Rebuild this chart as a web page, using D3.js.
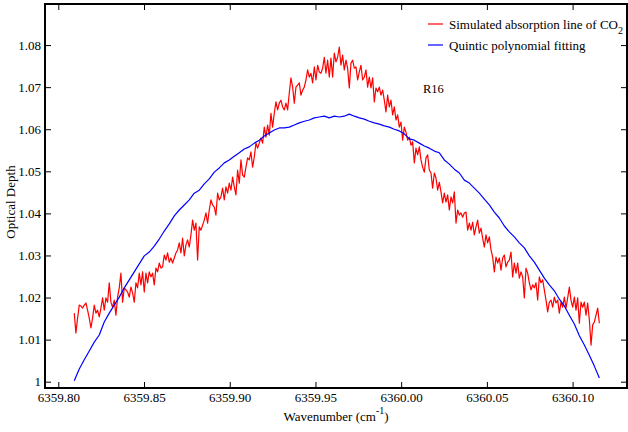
<!DOCTYPE html>
<html>
<head>
    <title>R16 optical depth</title>
    <script src="https://d3js.org/d3.v7.min.js"></script>
    <style>
      body { margin: 0; background: #fff; }
      text { font-family: "Liberation Serif", "Times New Roman", serif; fill: #000; }
    </style>
</head>
<body>
    <svg width="628" height="432"></svg>

    <script>
      // sampling grids (cm^-1)
      const wnStart = 6359.8093, wnEnd = 6360.1156;

      // simulated absorption line (red), evenly sampled from wnStart to wnEnd
      const simulated = [
        1.0163, 1.0116, 1.0151, 1.0182, 1.0180, 1.0175, 1.0182, 1.0187, 1.0170, 1.0151,
        1.0128, 1.0151, 1.0182, 1.0163, 1.0170, 1.0154, 1.0175, 1.0199, 1.0170, 1.0199,
        1.0189, 1.0235, 1.0189, 1.0177, 1.0194, 1.0158, 1.0201, 1.0223, 1.0258, 1.0189,
        1.0223, 1.0218, 1.0213, 1.0201, 1.0225, 1.0211, 1.0189, 1.0235, 1.0223, 1.0258,
        1.0230, 1.0261, 1.0213, 1.0258, 1.0235, 1.0261, 1.0249, 1.0258, 1.0230, 1.0270,
        1.0261, 1.0282, 1.0270, 1.0273, 1.0301, 1.0289, 1.0306, 1.0284, 1.0294, 1.0282,
        1.0294, 1.0306, 1.0313, 1.0330, 1.0306, 1.0341, 1.0299, 1.0325, 1.0337, 1.0320,
        1.0349, 1.0384, 1.0360, 1.0377, 1.0289, 1.0368, 1.0360, 1.0372, 1.0384, 1.0401,
        1.0377, 1.0408, 1.0432, 1.0420, 1.0415, 1.0396, 1.0448, 1.0432, 1.0439, 1.0460,
        1.0432, 1.0463, 1.0448, 1.0472, 1.0455, 1.0486, 1.0463, 1.0444, 1.0503, 1.0472,
        1.0527, 1.0491, 1.0486, 1.0510, 1.0532, 1.0527, 1.0546, 1.0510, 1.0534, 1.0567,
        1.0555, 1.0567, 1.0579, 1.0567, 1.0605, 1.0581, 1.0610, 1.0586, 1.0638, 1.0605,
        1.0638, 1.0665, 1.0646, 1.0662, 1.0669, 1.0653, 1.0646, 1.0662, 1.0646, 1.0686,
        1.0722, 1.0700, 1.0662, 1.0700, 1.0705, 1.0710, 1.0681, 1.0693, 1.0700, 1.0717,
        1.0741, 1.0724, 1.0733, 1.0710, 1.0748, 1.0717, 1.0752, 1.0736, 1.0733, 1.0745,
        1.0771, 1.0733, 1.0764, 1.0724, 1.0769, 1.0724, 1.0781, 1.0760, 1.0771, 1.0795,
        1.0752, 1.0776, 1.0741, 1.0764, 1.0745, 1.0698, 1.0757, 1.0764, 1.0745, 1.0748,
        1.0717, 1.0736, 1.0752, 1.0717, 1.0724, 1.0741, 1.0700, 1.0724, 1.0698, 1.0722,
        1.0665, 1.0698, 1.0689, 1.0700, 1.0681, 1.0693, 1.0669, 1.0641, 1.0681, 1.0653,
        1.0669, 1.0634, 1.0653, 1.0622, 1.0634, 1.0605, 1.0617, 1.0574, 1.0605, 1.0593,
        1.0574, 1.0581, 1.0562, 1.0570, 1.0520, 1.0555, 1.0539, 1.0558, 1.0527, 1.0510,
        1.0498, 1.0532, 1.0539, 1.0503, 1.0496, 1.0460, 1.0496, 1.0484, 1.0455, 1.0474,
        1.0451, 1.0425, 1.0448, 1.0427, 1.0444, 1.0408, 1.0439, 1.0425, 1.0451, 1.0377,
        1.0408, 1.0396, 1.0401, 1.0391, 1.0401, 1.0403, 1.0360, 1.0377, 1.0360, 1.0379,
        1.0349, 1.0368, 1.0384, 1.0353, 1.0365, 1.0341, 1.0320, 1.0349, 1.0330, 1.0344,
        1.0313, 1.0296, 1.0261, 1.0296, 1.0282, 1.0294, 1.0265, 1.0294, 1.0301, 1.0273,
        1.0284, 1.0289, 1.0308, 1.0249, 1.0282, 1.0258, 1.0282, 1.0246, 1.0261, 1.0249,
        1.0199, 1.0270, 1.0258, 1.0235, 1.0218, 1.0230, 1.0223, 1.0235, 1.0194, 1.0249,
        1.0235, 1.0242, 1.0218, 1.0194, 1.0166, 1.0189, 1.0194, 1.0177, 1.0201, 1.0187,
        1.0194, 1.0163, 1.0189, 1.0177, 1.0201, 1.0175, 1.0199, 1.0225, 1.0194, 1.0177,
        1.0201, 1.0170, 1.0199, 1.0139, 1.0189, 1.0177, 1.0189, 1.0158, 1.0187, 1.0147,
        1.0087, 1.0135, 1.0142, 1.0158, 1.0175, 1.0139
      ];

      // quintic polynomial fit (blue), evenly sampled from wnStart to wnEnd
      const fitted = [
        1.0002, 1.0030, 1.0052, 1.0073, 1.0094, 1.0111, 1.0142, 1.0163, 1.0182, 1.0201,
        1.0223, 1.0242, 1.0261, 1.0280, 1.0299, 1.0308, 1.0322, 1.0339, 1.0358, 1.0375,
        1.0394, 1.0408, 1.0420, 1.0432, 1.0448, 1.0455, 1.0470, 1.0482, 1.0498, 1.0508,
        1.0520, 1.0527, 1.0536, 1.0544, 1.0553, 1.0558, 1.0567, 1.0574, 1.0584, 1.0591,
        1.0598, 1.0603, 1.0603, 1.0605, 1.0610, 1.0615, 1.0619, 1.0622, 1.0627, 1.0629,
        1.0631, 1.0627, 1.0631, 1.0629, 1.0631, 1.0636, 1.0631, 1.0627, 1.0624, 1.0619,
        1.0615, 1.0612, 1.0608, 1.0605, 1.0600, 1.0596, 1.0589, 1.0577, 1.0574, 1.0567,
        1.0560, 1.0555, 1.0548, 1.0544, 1.0527, 1.0517, 1.0505, 1.0496, 1.0479, 1.0472,
        1.0460, 1.0448, 1.0434, 1.0420, 1.0403, 1.0389, 1.0370, 1.0356, 1.0344, 1.0330,
        1.0318, 1.0299, 1.0284, 1.0265, 1.0246, 1.0230, 1.0216, 1.0196, 1.0180, 1.0158,
        1.0137, 1.0109, 1.0087, 1.0063, 1.0037, 1.0009
      ];

      const xTicks = [6359.80, 6359.85, 6359.90, 6359.95, 6360.00, 6360.05, 6360.10];
      const xTickLabels = ["6359.80", "6359.85", "6359.90", "6359.95", "6360.00", "6360.05", "6360.10"];
      const yTicks = [1, 1.01, 1.02, 1.03, 1.04, 1.05, 1.06, 1.07, 1.08];
      const yTickLabels = ["1", "1.01", "1.02", "1.03", "1.04", "1.05", "1.06", "1.07", "1.08"];
      const legendLabels = ["Simulated absorption line of CO", "Quintic polynomial fitting"];
      const colors = ["#ff0000", "#0000ff"];

      const svg = d3.select("svg"),
            margin = {top: 4, right: 1, bottom: 44, left: 45},
            width = +svg.attr("width") - margin.left - margin.right,
            height = +svg.attr("height") - margin.top - margin.bottom;

      const x = d3.scaleLinear().domain([6359.79224, 6360.13173]).range([0, width]),
            y = d3.scaleLinear().domain([0.9985, 1.08976]).range([height, 0]);

      const g = svg.append("g")
                   .attr("transform", `translate(${margin.left},${margin.top})`);

      const toPoints = vals => vals.map((v, i) => [wnStart + (wnEnd - wnStart) * i / (vals.length - 1), v]);

      const line = d3.line().x(d => x(d[0])).y(d => y(d[1]));

      [simulated, fitted].forEach((vals, i) => {
        g.append("path")
         .datum(toPoints(vals))
         .attr("fill", "none")
         .attr("stroke", colors[i])
         .attr("stroke-width", 1.2)
         .attr("stroke-linejoin", "round")
         .attr("d", line);
      });

      // axes, ticks point inward
      g.append("g")
       .attr("transform", `translate(0,${height})`)
       .call(d3.axisBottom(x).tickValues(xTicks).tickFormat((d, i) => xTickLabels[i])
             .tickSizeInner(-6).tickSizeOuter(0).tickPadding(5));
      g.append("g")
       .call(d3.axisTop(x).tickValues(xTicks).tickFormat("").tickSizeInner(-6).tickSizeOuter(0));
      g.append("g")
       .call(d3.axisLeft(y).tickValues(yTicks).tickFormat((d, i) => yTickLabels[i])
             .tickSizeInner(-6).tickSizeOuter(0).tickPadding(4));
      g.append("g")
       .attr("transform", `translate(${width},0)`)
       .call(d3.axisRight(y).tickValues(yTicks).tickFormat("").tickSizeInner(-6).tickSizeOuter(0));

      g.selectAll(".domain").remove();
      g.selectAll(".tick line").attr("stroke", "#000").attr("stroke-width", 1);
      g.selectAll(".tick text").attr("font-size", 13).attr("fill", "#000");
      svg.selectAll("g").attr("font-family", null);

      // frame
      g.append("rect")
       .attr("width", width).attr("height", height)
       .attr("fill", "none").attr("stroke", "#000").attr("stroke-width", 2);

      // axis titles
      const xl = svg.append("text")
         .attr("x", margin.left + width / 2).attr("y", 421)
         .attr("text-anchor", "middle").attr("font-size", 13)
         .text("Wavenumber (cm");
      xl.append("tspan").attr("font-size", 10).attr("dy", -7).text("-1");
      xl.append("tspan").attr("dy", 7).text(")");

      svg.append("text")
         .attr("transform", "translate(15,202) rotate(-90)")
         .attr("text-anchor", "middle").attr("font-size", 13)
         .text("Optical Depth");

      // legend
      const legend = g.selectAll(".legend")
        .data(legendLabels)
        .enter().append("g")
        .attr("class", "legend")
        .attr("transform", (d, i) => `translate(383,${20 + i * 21})`);
      legend.append("line")
        .attr("x1", 0).attr("x2", 15)
        .attr("stroke", (d, i) => colors[i]).attr("stroke-width", 1.2);
      const lt = legend.append("text")
        .attr("x", 21).attr("dy", "0.35em").attr("font-size", 13)
        .text(d => d);
      lt.filter((d, i) => i === 0)
        .append("tspan").attr("font-size", 10).attr("dy", 5).text("2");

      g.append("text")
       .attr("x", 378).attr("y", 89).attr("font-size", 12.5)
       .text("R16");
    </script>
</body>
</html>
